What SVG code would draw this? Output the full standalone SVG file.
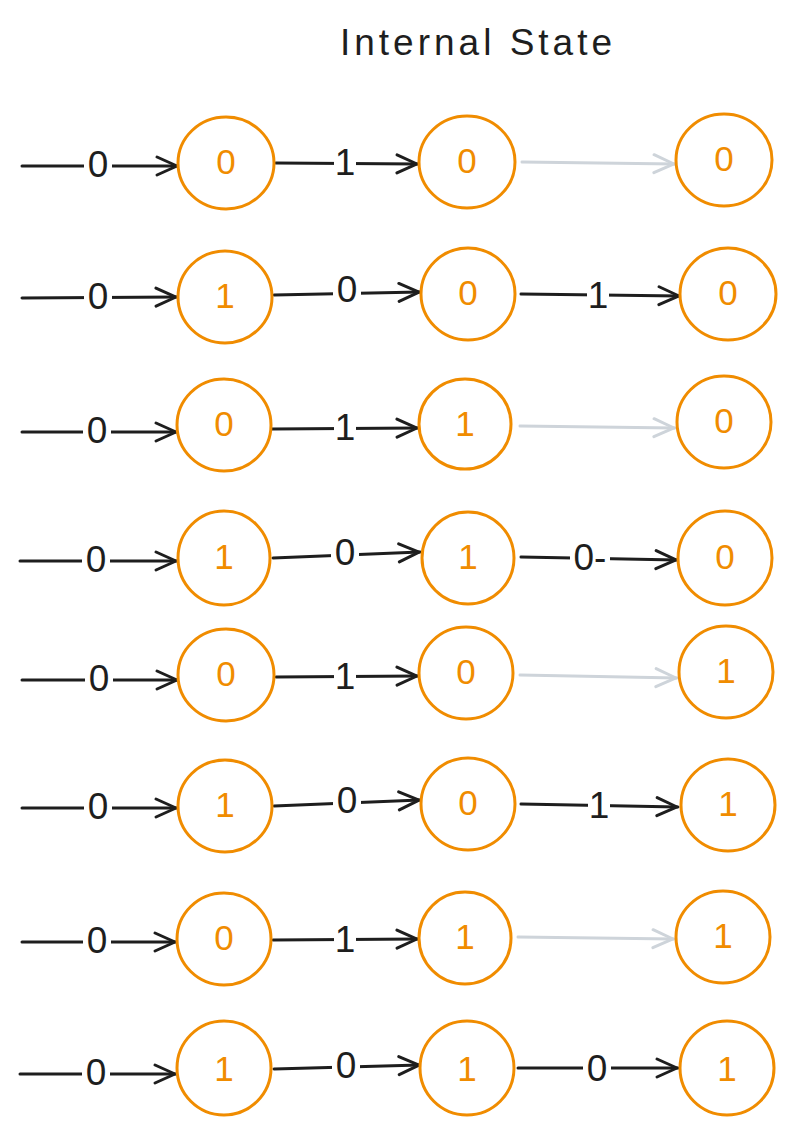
<svg xmlns="http://www.w3.org/2000/svg" width="807" height="1135" viewBox="0 0 807 1135">
<style>
.n{fill:#fff;stroke:#f08c00;stroke-width:3}
.nt{fill:#f08c00;font-family:"Liberation Sans",sans-serif;font-size:35px;text-anchor:middle;dominant-baseline:central}
.e{stroke:#1e1e1e;stroke-width:3;fill:none;stroke-linecap:round}
.g{stroke:#ced4da;stroke-width:3;fill:none;stroke-linecap:round}
.bg{fill:#fff}
.lt{fill:#1e1e1e;font-family:"Liberation Sans",sans-serif;font-size:37px;text-anchor:middle;dominant-baseline:central}
.title{fill:#1e1e1e;font-family:"Liberation Sans",sans-serif;font-size:37px;text-anchor:middle;letter-spacing:4px}
</style>
<defs>
<marker id="a" viewBox="0 0 24 24" refX="23" refY="12" markerWidth="24" markerHeight="24" markerUnits="userSpaceOnUse" orient="auto"><path d="M2,3 L22,12 L2,21" fill="none" stroke="#1e1e1e" stroke-width="3" stroke-linecap="round" stroke-linejoin="round"/></marker>
<marker id="ag" viewBox="0 0 24 24" refX="23" refY="12" markerWidth="24" markerHeight="24" markerUnits="userSpaceOnUse" orient="auto"><path d="M2,3 L22,12 L2,21" fill="none" stroke="#ced4da" stroke-width="3" stroke-linecap="round" stroke-linejoin="round"/></marker>
</defs>
<text class="title" x="478" y="55">Internal State</text>
<g id="connectors">
<line class="e" x1="22" y1="166" x2="178" y2="166" marker-end="url(#a)"/><rect class="bg" x="84" y="150" width="28" height="30"/><text class="lt" x="98" y="164">0</text>
<line class="e" x1="276" y1="163" x2="418" y2="164" marker-end="url(#a)"/><rect class="bg" x="334" y="148" width="22" height="30"/><text class="lt" x="345" y="162">1</text>
<line class="g" x1="522" y1="162" x2="675" y2="164" marker-end="url(#ag)"/>
<line class="e" x1="22" y1="298" x2="177" y2="297" marker-end="url(#a)"/><rect class="bg" x="84" y="282" width="28" height="30"/><text class="lt" x="98" y="296">0</text>
<line class="e" x1="274" y1="295" x2="420" y2="292" marker-end="url(#a)"/><rect class="bg" x="333" y="275" width="28" height="30"/><text class="lt" x="347" y="289">0</text>
<line class="e" x1="521" y1="294" x2="680" y2="296" marker-end="url(#a)"/><rect class="bg" x="587" y="281" width="22" height="30"/><text class="lt" x="598" y="295">1</text>
<line class="e" x1="22" y1="432" x2="177" y2="432" marker-end="url(#a)"/><rect class="bg" x="83" y="416" width="28" height="30"/><text class="lt" x="97" y="430">0</text>
<line class="e" x1="272" y1="429" x2="418" y2="428" marker-end="url(#a)"/><rect class="bg" x="334" y="413" width="22" height="30"/><text class="lt" x="345" y="427">1</text>
<line class="g" x1="520" y1="426" x2="675" y2="428" marker-end="url(#ag)"/>
<line class="e" x1="20" y1="561" x2="177" y2="561" marker-end="url(#a)"/><rect class="bg" x="82" y="545" width="28" height="30"/><text class="lt" x="96" y="559">0</text>
<line class="e" x1="273" y1="558" x2="420" y2="552" marker-end="url(#a)"/><rect class="bg" x="331" y="538" width="28" height="30"/><text class="lt" x="345" y="552">0</text>
<line class="e" x1="521" y1="557" x2="677" y2="560" marker-end="url(#a)"/><rect class="bg" x="570" y="543" width="40" height="30"/><text class="lt" x="590" y="557">0-</text>
<line class="e" x1="22" y1="680" x2="178" y2="680" marker-end="url(#a)"/><rect class="bg" x="85" y="664" width="28" height="30"/><text class="lt" x="99" y="678">0</text>
<line class="e" x1="276" y1="677" x2="418" y2="676" marker-end="url(#a)"/><rect class="bg" x="334" y="662" width="22" height="30"/><text class="lt" x="345" y="676">1</text>
<line class="g" x1="520" y1="675" x2="677" y2="678" marker-end="url(#ag)"/>
<line class="e" x1="22" y1="808" x2="177" y2="808" marker-end="url(#a)"/><rect class="bg" x="84" y="792" width="28" height="30"/><text class="lt" x="98" y="806">0</text>
<line class="e" x1="274" y1="806" x2="420" y2="800" marker-end="url(#a)"/><rect class="bg" x="333" y="786" width="28" height="30"/><text class="lt" x="347" y="800">0</text>
<line class="e" x1="521" y1="804" x2="678" y2="807" marker-end="url(#a)"/><rect class="bg" x="588" y="791" width="22" height="30"/><text class="lt" x="599" y="805">1</text>
<line class="e" x1="22" y1="942" x2="176" y2="942" marker-end="url(#a)"/><rect class="bg" x="83" y="926" width="28" height="30"/><text class="lt" x="97" y="940">0</text>
<line class="e" x1="273" y1="940" x2="418" y2="939" marker-end="url(#a)"/><rect class="bg" x="334" y="925" width="22" height="30"/><text class="lt" x="345" y="939">1</text>
<line class="g" x1="518" y1="937" x2="674" y2="939" marker-end="url(#ag)"/>
<line class="e" x1="20" y1="1074" x2="176" y2="1074" marker-end="url(#a)"/><rect class="bg" x="82" y="1058" width="28" height="30"/><text class="lt" x="96" y="1072">0</text>
<line class="e" x1="274" y1="1069" x2="420" y2="1065" marker-end="url(#a)"/><rect class="bg" x="332" y="1051" width="28" height="30"/><text class="lt" x="346" y="1065">0</text>
<line class="e" x1="518" y1="1068" x2="678" y2="1068" marker-end="url(#a)"/><rect class="bg" x="583" y="1054" width="28" height="30"/><text class="lt" x="597" y="1068">0</text>
</g>
<g id="r1c1"><ellipse class="n" cx="226" cy="163" rx="48" ry="46"/><text class="nt" x="226" y="161">0</text></g>
<g id="r1c2"><ellipse class="n" cx="467" cy="162" rx="48" ry="46"/><text class="nt" x="467" y="160">0</text></g>
<g id="r1c3"><ellipse class="n" cx="724" cy="160" rx="48" ry="46"/><text class="nt" x="724" y="158">0</text></g>
<g id="r2c1"><ellipse class="n" cx="225" cy="297" rx="47" ry="46"/><text class="nt" x="225" y="295">1</text></g>
<g id="r2c2"><ellipse class="n" cx="468" cy="294" rx="47" ry="46"/><text class="nt" x="468" y="292">0</text></g>
<g id="r2c3"><ellipse class="n" cx="728" cy="294" rx="48" ry="46"/><text class="nt" x="728" y="292">0</text></g>
<g id="r3c1"><ellipse class="n" cx="224" cy="425" rx="47" ry="46"/><text class="nt" x="224" y="423">0</text></g>
<g id="r3c2"><ellipse class="n" cx="465" cy="424" rx="46" ry="45"/><text class="nt" x="465" y="423">1</text></g>
<g id="r3c3"><ellipse class="n" cx="724" cy="422" rx="47" ry="46"/><text class="nt" x="724" y="420">0</text></g>
<g id="r4c1"><ellipse class="n" cx="224" cy="558" rx="46" ry="47"/><text class="nt" x="224" y="556">1</text></g>
<g id="r4c2"><ellipse class="n" cx="468" cy="558" rx="46" ry="46"/><text class="nt" x="468" y="556">1</text></g>
<g id="r4c3"><ellipse class="n" cx="725" cy="558" rx="47" ry="47"/><text class="nt" x="725" y="556">0</text></g>
<g id="r5c1"><ellipse class="n" cx="226" cy="675" rx="48" ry="46"/><text class="nt" x="226" y="673">0</text></g>
<g id="r5c2"><ellipse class="n" cx="466" cy="673" rx="47" ry="46"/><text class="nt" x="466" y="671">0</text></g>
<g id="r5c3"><ellipse class="n" cx="726" cy="672" rx="47" ry="46"/><text class="nt" x="726" y="670">1</text></g>
<g id="r6c1"><ellipse class="n" cx="225" cy="806" rx="47" ry="46"/><text class="nt" x="225" y="804">1</text></g>
<g id="r6c2"><ellipse class="n" cx="468" cy="804" rx="47" ry="46"/><text class="nt" x="468" y="802">0</text></g>
<g id="r6c3"><ellipse class="n" cx="728" cy="805" rx="47" ry="46"/><text class="nt" x="728" y="803">1</text></g>
<g id="r7c1"><ellipse class="n" cx="224" cy="939" rx="47" ry="46"/><text class="nt" x="224" y="937">0</text></g>
<g id="r7c2"><ellipse class="n" cx="465" cy="938" rx="46" ry="46"/><text class="nt" x="465" y="936">1</text></g>
<g id="r7c3"><ellipse class="n" cx="723" cy="937" rx="47" ry="46"/><text class="nt" x="723" y="935">1</text></g>
<g id="r8c1"><ellipse class="n" cx="224" cy="1068" rx="47" ry="47"/><text class="nt" x="224" y="1068">1</text></g>
<g id="r8c2"><ellipse class="n" cx="467" cy="1068" rx="47" ry="47"/><text class="nt" x="467" y="1068">1</text></g>
<g id="r8c3"><ellipse class="n" cx="727" cy="1068" rx="47" ry="47"/><text class="nt" x="727" y="1068">1</text></g>
</svg>
